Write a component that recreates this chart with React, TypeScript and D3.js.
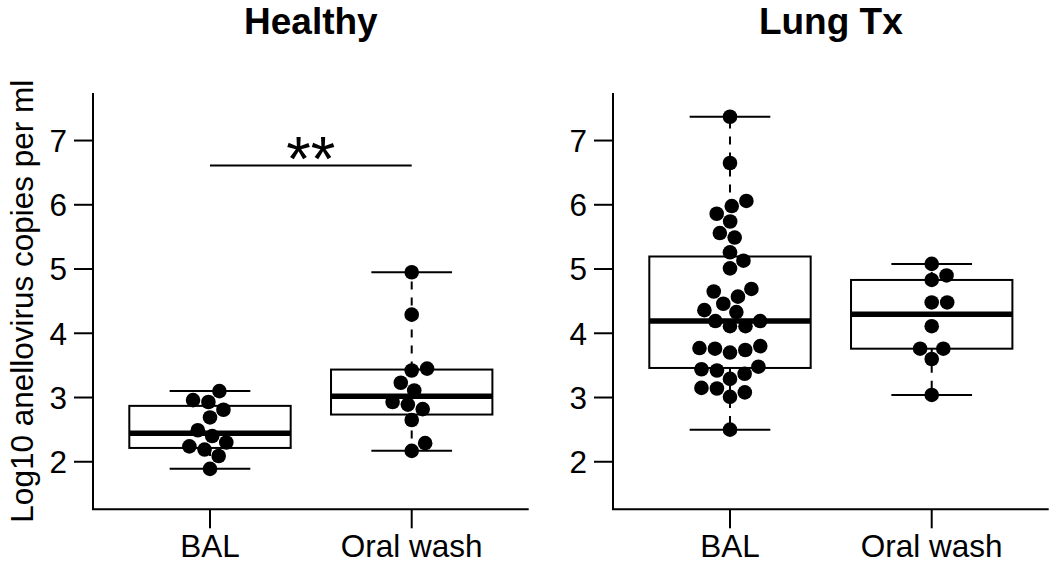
import React from "react";
import * as d3 from "d3";

// ---------------- data ----------------
const panelTitles = ["Healthy", "Lung Tx"];
const categories = ["BAL", "Oral wash"];
const healthyBAL = [1.89, 2.09, 2.19, 2.24, 2.3, 2.4, 2.49, 2.69, 2.81, 2.93, 2.96, 3.1];
const healthyOralWash = [2.17, 2.29, 2.65, 2.82, 2.89, 2.93, 3.11, 3.23, 3.42, 3.45, 4.29, 4.95];
const lungTxBAL = [
  2.5, 3.01, 3.08, 3.14, 3.15, 3.29, 3.37, 3.42, 3.44, 3.48, 3.7, 3.74, 3.76, 3.77, 3.8,
  4.11, 4.11, 4.19, 4.19, 4.33, 4.36, 4.46, 4.57, 4.65, 4.69, 5.01, 5.13, 5.26, 5.49,
  5.56, 5.74, 5.86, 5.98, 6.06, 6.65, 7.37,
];
const lungTxOralWash = [3.04, 3.6, 3.76, 3.76, 4.11, 4.48, 4.48, 4.83, 4.9, 5.08];
const yTicks = [2, 3, 4, 5, 6, 7];
const yLimits = [1.5, 7.5];
const yAxisTitle = "Log10 anellovirus copies per ml";
const significanceLabel = "**";
const significanceLevel = 6.61;

const panelData = [
  [healthyBAL, healthyOralWash],
  [lungTxBAL, lungTxOralWash],
];

// ---------------- layout ----------------
const W = 1050;
const H = 564;
const FONT = "'Liberation Sans', Arial, Helvetica, sans-serif";
const plotTop = 93;
const plotBottom = 509.3;
const panelX = [
  [93, 528.7],
  [613, 1048.7],
];
const SWARM = 15.5; // px spacing between point centres
const R = 7.3;

function fivenum(vals: number[]) {
  const x = [...vals].sort((a, b) => a - b);
  const n = x.length;
  const n4 = Math.floor((n + 3) / 2) / 2;
  const d = [1, n4, (n + 1) / 2, n + 1 - n4, n];
  return d.map((di) => 0.5 * (x[Math.floor(di) - 1] + x[Math.ceil(di) - 1]));
}

// beeswarm "swarm" method, ascending priority (px units)
function swarm(ys: number[]): number[] {
  const n = ys.length;
  const idx = d3.range(n).sort((a, b) => ys[a] - ys[b] || a - b);
  const px = idx.map((i) => ys[i] / SWARM);
  const off: number[] = new Array(n).fill(0);
  for (let k = 1; k < n; k++) {
    const xi = px[k];
    const pre: number[] = [];
    for (let j = 0; j < k; j++) if (Math.abs(xi - px[j]) < 1) pre.push(j);
    if (!pre.length) {
      off[k] = 0;
      continue;
    }
    const plus = pre.map((j) => off[j] + Math.sqrt(1 - (xi - px[j]) ** 2));
    const minus = pre.map((j) => off[j] - Math.sqrt(1 - (xi - px[j]) ** 2));
    const cands = [0, ...plus, ...minus];
    let best = Infinity;
    let bestAbs = Infinity;
    for (const c of cands) {
      const bad = pre.some((j) => (xi - px[j]) ** 2 + (c - off[j]) ** 2 < 0.999);
      if (!bad && Math.abs(c) < bestAbs) {
        bestAbs = Math.abs(c);
        best = c;
      }
    }
    off[k] = best;
  }
  const result: number[] = new Array(n).fill(0);
  idx.forEach((i, k) => (result[i] = off[k] * SWARM));
  return result;
}

function Panel({ p }: { p: number }) {
  const [x0, x1] = panelX[p];
  const xPad = (2.5 - 0.5) * 0.04;
  const x = d3.scaleLinear().domain([0.5 - xPad, 2.5 + xPad]).range([x0, x1]);
  const yPad = (yLimits[1] - yLimits[0]) * 0.04;
  const y = d3
    .scaleLinear()
    .domain([yLimits[0] - yPad, yLimits[1] + yPad])
    .range([plotBottom, plotTop]);

  return (
    <g>
      <text
        x={(x0 + x1) / 2}
        y={34}
        textAnchor="middle"
        fontFamily={FONT}
        fontWeight="bold"
        fontSize={37}
      >
        {panelTitles[p]}
      </text>
      {panelData[p].map((vals, ci) => {
        const cx = x(ci + 1);
        const [mn, lo, med, hi, mx] = fivenum(vals);
        const offs = swarm(vals.map((v) => -y(v)));
        return (
          <g key={ci}>
            <line x1={cx} x2={cx} y1={y(hi)} y2={y(mx)} stroke="#000" strokeWidth={2} strokeDasharray="8,8" />
            <line x1={cx} x2={cx} y1={y(lo)} y2={y(mn)} stroke="#000" strokeWidth={2} strokeDasharray="8,8" />
            <line x1={x(ci + 1 - 0.2)} x2={x(ci + 1 + 0.2)} y1={y(mx)} y2={y(mx)} stroke="#000" strokeWidth={2} />
            <line x1={x(ci + 1 - 0.2)} x2={x(ci + 1 + 0.2)} y1={y(mn)} y2={y(mn)} stroke="#000" strokeWidth={2} />
            <rect
              x={x(ci + 1 - 0.4)}
              y={y(hi)}
              width={x(ci + 1 + 0.4) - x(ci + 1 - 0.4)}
              height={y(lo) - y(hi)}
              fill="#fff"
              stroke="#000"
              strokeWidth={2}
            />
            <line x1={x(ci + 1 - 0.4)} x2={x(ci + 1 + 0.4)} y1={y(med)} y2={y(med)} stroke="#000" strokeWidth={5.5} />
            {vals.map((v, i) => (
              <circle key={i} cx={cx + offs[i]} cy={y(v)} r={R} fill="#000" />
            ))}
          </g>
        );
      })}
      {/* axes */}
      <line x1={x0} x2={x0} y1={plotTop} y2={plotBottom} stroke="#000" strokeWidth={2} />
      <line x1={x0 - 1} x2={x1} y1={plotBottom} y2={plotBottom} stroke="#000" strokeWidth={2} />
      {yTicks.map((t) => (
        <g key={t}>
          <line x1={x0 - 19} x2={x0} y1={y(t)} y2={y(t)} stroke="#000" strokeWidth={2} />
          <text x={x0 - 26} y={y(t)} dy="0.36em" textAnchor="end" fontFamily={FONT} fontSize={31.5}>
            {t}
          </text>
        </g>
      ))}
      {categories.map((c, i) => (
        <g key={c}>
          <line x1={x(i + 1)} x2={x(i + 1)} y1={plotBottom} y2={plotBottom + 19} stroke="#000" strokeWidth={2} />
          <text x={x(i + 1)} y={556.5} textAnchor="middle" fontFamily={FONT} fontSize={31.5}>
            {c}
          </text>
        </g>
      ))}
      {p === 0 && (
        <g>
          <line x1={x(1)} x2={x(2)} y1={y(significanceLevel)} y2={y(significanceLevel)} stroke="#000" strokeWidth={2} />
          <text
            x={(x(1) + x(2)) / 2}
            y={y(significanceLevel) + 14}
            textAnchor="middle"
            fontFamily={FONT}
            fontSize={63}
          >
            {significanceLabel}
          </text>
        </g>
      )}
    </g>
  );
}

export default function App() {
  return (
    <svg
      width={W}
      height={H}
      viewBox={`0 0 ${W} ${H}`}
      style={{ position: "absolute", left: 0, top: 0, background: "#fff" }}
    >
      <rect width={W} height={H} fill="#fff" />
      <text
        transform={`translate(33, ${(plotTop + plotBottom) / 2}) rotate(-90)`}
        textAnchor="middle"
        fontFamily={FONT}
        fontSize={31.5}
      >
        {yAxisTitle}
      </text>
      <Panel p={0} />
      <Panel p={1} />
    </svg>
  );
}
